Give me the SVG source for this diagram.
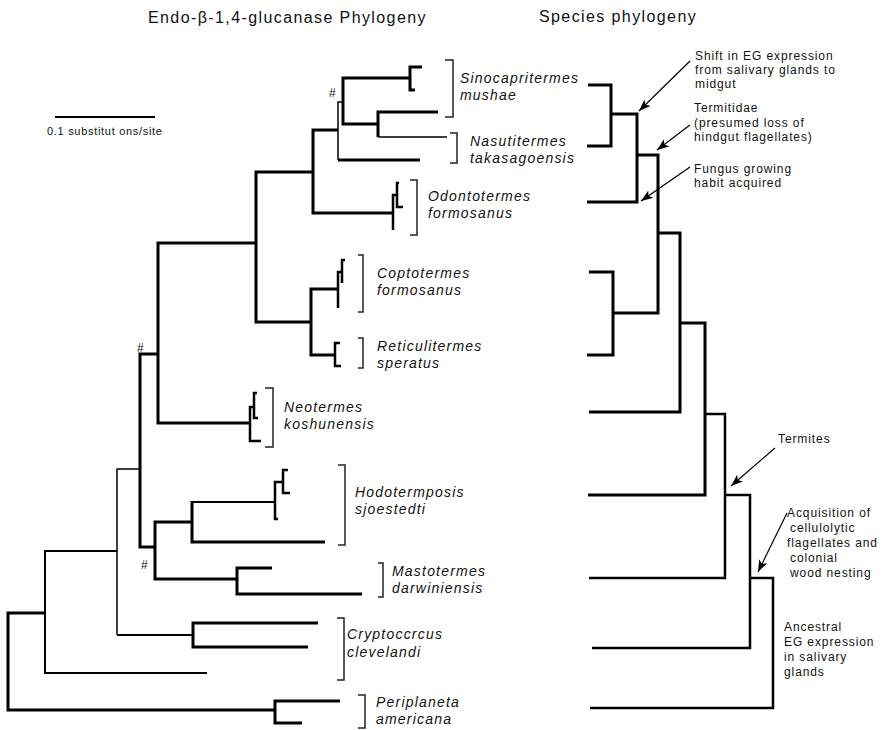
<svg xmlns="http://www.w3.org/2000/svg" width="890" height="730" viewBox="0 0 890 730">
  <style>
    .bg { fill: #ffffff; }
    .title { font-family: "Liberation Sans", Arial, Helvetica, sans-serif; font-size: 16px; letter-spacing: 1.4px; fill: #111; }
    .taxon { font-family: "Liberation Sans", Arial, Helvetica, sans-serif; font-size: 14px; font-style: italic; letter-spacing: 1.2px; fill: #111; }
    .note { font-family: "Liberation Sans", Arial, Helvetica, sans-serif; font-size: 12px; letter-spacing: 0.9px; fill: #111; }
    .scale { font-family: "Liberation Sans", Arial, Helvetica, sans-serif; font-size: 11px; letter-spacing: 0.7px; fill: #111; }
    .hash { font-family: "Liberation Sans", Arial, Helvetica, sans-serif; font-size: 12px; fill: #111; }
    .b3 { fill: none; stroke: #000; stroke-width: 3; stroke-linejoin: miter; }
    .b25 { fill: none; stroke: #000; stroke-width: 2.5; stroke-linejoin: miter; }
    .b2 { fill: none; stroke: #000; stroke-width: 2; stroke-linejoin: miter; }
    .b15 { fill: none; stroke: #000; stroke-width: 1.5; stroke-linejoin: miter; }
    .brk { fill: none; stroke: #222; stroke-width: 1.5; }
    .arrow { fill: none; stroke: #000; stroke-width: 1.2; marker-end: url(#head); }
  </style>
  <defs>
    <marker id="head" markerUnits="userSpaceOnUse" markerWidth="13" markerHeight="10" refX="12" refY="4.5" orient="auto">
      <path d="M0,0 L12,4.5 L0,9 L3,4.5 z" fill="#000"/>
    </marker>
  </defs>
  <rect class="bg" x="0" y="0" width="890" height="730"/>

  <!-- headings -->
  <g id="headings">
    <text class="title" x="148" y="23">Endo-β-1,4-glucanase Phylogeny</text>
    <text class="title" x="539" y="22">Species phylogeny</text>
  </g>

  <!-- scale bar -->
  <g id="scale-bar">
    <path class="b2" d="M55 117 H155"/>
    <text class="scale" x="47" y="135">0.1 substitut ons/site</text>
  </g>

  <!-- gene tree branches -->
  <g id="gene-tree">
    <path class="b3" d="M45 613 H8 V710 H275"/>
    <path class="b3" d="M340 701 H275 V723 H302"/>
    <path class="b2" d="M117 551 H45 V673 H207"/>
    <path class="b15" d="M140 469 H117 V635"/>
    <path class="b2" d="M117 635 H193"/>
    <path class="b3" d="M318 623 H193 V647 H308"/>
    <path class="b3" d="M158 354 H140 V547 H155"/>
    <path class="b3" d="M192 522 H155 V579 H237"/>
    <path class="b2" d="M192 502 H275"/>
    <path class="b3" d="M192 501 V542 H325"/>
    <path class="b25" d="M278 519 H275 V482 H283"/>
    <path class="b25" d="M288 470 H283 V493 H290"/>
    <path class="b3" d="M272 568 H237 V594 H362"/>
    <path class="b3" d="M256 243 H158 V423 H250"/>
    <path class="b25" d="M261 441 H250 V407 H254"/>
    <path class="b25" d="M257 393 H254 V418 H258"/>
    <path class="b3" d="M313 172 H256 V322 H311"/>
    <path class="b3" d="M337 289 H311 V355 H335"/>
    <path class="b25" d="M338 308 V272 H342"/>
    <path class="b25" d="M345 260 H342 V283"/>
    <path class="b25" d="M340 343 H335 V366 H341"/>
    <path class="b3" d="M338 130 H313 V213 H393"/>
    <path class="b25" d="M393 230 V195 H397"/>
    <path class="b25" d="M399 183 H397 V207 H403"/>
    <path class="b15" d="M343 102 H338 V160"/>
    <path class="b3" d="M338 160 H420"/>
    <path class="b3" d="M410 78 H343 V124 H378"/>
    <path class="b3" d="M422 67 H410 V90 H415"/>
    <path class="b3" d="M438 112 H378 V137"/>
    <path class="b15" d="M378 137 H447"/>
  </g>

  <!-- clade markers -->
  <g id="markers">
    <text class="hash" x="329" y="97">#</text>
    <text class="hash" x="137" y="352">#</text>
    <text class="hash" x="141" y="569">#</text>
  </g>

  <!-- taxa with their brackets -->
  <g id="sinocapritermes">
    <path class="brk" d="M445 60 H453 V117 H445"/>
    <text class="taxon" x="460" y="83">Sinocapritermes</text>
    <text class="taxon" x="460" y="100">mushae</text>
  </g>
  <g id="nasutitermes">
    <path class="brk" d="M450 133 H457 V163 H450"/>
    <text class="taxon" x="470" y="146">Nasutitermes</text>
    <text class="taxon" x="470" y="163">takasagoensis</text>
  </g>
  <g id="odontotermes">
    <path class="brk" d="M410 180 H417 V235 H410"/>
    <text class="taxon" x="428" y="201">Odontotermes</text>
    <text class="taxon" x="428" y="218">formosanus</text>
  </g>
  <g id="coptotermes">
    <path class="brk" d="M358 255 H363 V312 H358"/>
    <text class="taxon" x="377" y="278">Coptotermes</text>
    <text class="taxon" x="377" y="295">formosanus</text>
  </g>
  <g id="reticulitermes">
    <path class="brk" d="M358 338 H363 V368 H358"/>
    <text class="taxon" x="377" y="351">Reticulitermes</text>
    <text class="taxon" x="377" y="368">speratus</text>
  </g>
  <g id="neotermes">
    <path class="brk" d="M265 388 H273 V447 H265"/>
    <text class="taxon" x="284" y="412">Neotermes</text>
    <text class="taxon" x="284" y="429">koshunensis</text>
  </g>
  <g id="hodotermopsis">
    <path class="brk" d="M338 465 H345 V545 H338"/>
    <text class="taxon" x="355" y="497">Hodotermposis</text>
    <text class="taxon" x="355" y="514">sjoestedti</text>
  </g>
  <g id="mastotermes">
    <path class="brk" d="M378 563 H383 V597 H378"/>
    <text class="taxon" x="392" y="576">Mastotermes</text>
    <text class="taxon" x="392" y="593">darwiniensis</text>
  </g>
  <g id="cryptocercus">
    <path class="brk" d="M337 618 H344 V680 H337"/>
    <text class="taxon" x="347" y="639">Cryptoccrcus</text>
    <text class="taxon" x="347" y="657">clevelandi</text>
  </g>
  <g id="periplaneta">
    <path class="brk" d="M358 695 H365 V728 H358"/>
    <text class="taxon" x="376" y="707">Periplaneta</text>
    <text class="taxon" x="376" y="724">americana</text>
  </g>

  <!-- species tree branches -->
  <g id="species-tree">
    <path class="b3" d="M588 85 H611 V146 H587"/>
    <path class="b3" d="M611 114 H637 V202 H587"/>
    <path class="b3" d="M637 155 H658 V313 H613"/>
    <path class="b3" d="M589 272 H613 V355 H587"/>
    <path class="b3" d="M658 233 H680 V412 H589"/>
    <path class="b3" d="M680 323 H705 V495 H588"/>
    <path class="b25" d="M705 414 H725 V578 H589"/>
    <path class="b25" d="M725 495 H750 V648 H592"/>
    <path class="b25" d="M750 578 H773 V708 H590"/>
  </g>

  <!-- annotation arrows -->
  <g id="annotation-arrows">
    <path class="arrow" d="M690 61 L639 111"/>
    <path class="arrow" d="M690 125 L657 150"/>
    <path class="arrow" d="M690 167 L641 201"/>
    <path class="arrow" d="M775 448 L731 486"/>
    <path class="arrow" d="M787 513 L758 572"/>
  </g>

  <!-- annotation texts -->
  <g id="note-shift">
    <text class="note" x="695" y="60">Shift in EG expression</text>
    <text class="note" x="695" y="74">from salivary glands to</text>
    <text class="note" x="695" y="88">midgut</text>
  </g>
  <g id="note-termitidae">
    <text class="note" x="694" y="112">Termitidae</text>
    <text class="note" x="694" y="127">(presumed loss of</text>
    <text class="note" x="694" y="141">hindgut flagellates)</text>
  </g>
  <g id="note-fungus">
    <text class="note" x="694" y="173">Fungus growing</text>
    <text class="note" x="694" y="187">habit acquired</text>
  </g>
  <g id="note-termites">
    <text class="note" x="778" y="443">Termites</text>
  </g>
  <g id="note-acquisition">
    <text class="note" x="787" y="517">Acquisition of</text>
    <text class="note" x="790" y="532">cellulolytic</text>
    <text class="note" x="787" y="547">flagellates and</text>
    <text class="note" x="790" y="562">colonial</text>
    <text class="note" x="790" y="577">wood nesting</text>
  </g>
  <g id="note-ancestral">
    <text class="note" x="784" y="631">Ancestral</text>
    <text class="note" x="784" y="646">EG expression</text>
    <text class="note" x="784" y="661">in salivary</text>
    <text class="note" x="784" y="676">glands</text>
  </g>
</svg>
